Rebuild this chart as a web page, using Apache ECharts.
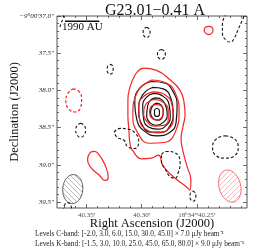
<!DOCTYPE html>
<html><head><meta charset="utf-8">
<script src="https://cdn.jsdelivr.net/npm/echarts@6/dist/echarts.min.js"></script>
<style>html,body{margin:0;padding:0;background:#fff}#c{width:264px;height:252px}</style>
</head><body><div id="c"></div>
<script>
// Axis ranges (RA seconds of 18h34m, Dec arcsec of -9°00')
const raRange = [40.2045, 40.3768];
const decRange = [37.0, 39.58];
const xTicks = [40.35, 40.30, 40.25];
const xMinorTicks = [40.21,40.22,40.23,40.24,40.26,40.27,40.28,40.29,40.31,40.32,40.33,40.34,40.36,40.37];
const yTicks = [37.0, 37.5, 38.0, 38.5, 39.0, 39.5];
const yMinorTicks = [37.1,37.2,37.3,37.4,37.6,37.7,37.8,37.9,38.1,38.2,38.3,38.4,38.6,38.7,38.8,38.9,39.1,39.2,39.3,39.4];

// K-band (black) positive contours
const kPos1 = [[40.2911,37.88],[40.2795,37.90],[40.2714,38.02],[40.2679,38.21],[40.2688,38.43],[40.2750,38.57],[40.2857,38.61],[40.2973,38.55],[40.3045,38.39],[40.3063,38.16],[40.3018,37.97]];
const kPos2 = [[40.2902,37.96],[40.2804,37.98],[40.2732,38.12],[40.2714,38.29],[40.2741,38.47],[40.2821,38.56],[40.2920,38.56],[40.3000,38.45],[40.3027,38.27],[40.2991,38.06]];
const kPos3 = [[40.2893,38.04],[40.2804,38.08],[40.2750,38.20],[40.2741,38.35],[40.2777,38.47],[40.2857,38.52],[40.2938,38.49],[40.2982,38.39],[40.2991,38.21],[40.2955,38.09]];
const kPos4 = [[40.2875,38.10],[40.2813,38.13],[40.2777,38.23],[40.2768,38.33],[40.2804,38.43],[40.2866,38.47],[40.2920,38.44],[40.2955,38.35],[40.2946,38.21],[40.2920,38.13]];
const kPos5 = [[40.2866,38.17],[40.2821,38.20],[40.2804,38.28],[40.2813,38.36],[40.2857,38.40],[40.2902,38.37],[40.2920,38.29],[40.2902,38.21]];
const kPos6 = [[40.2862,38.24],[40.2839,38.27],[40.2839,38.32],[40.2862,38.35],[40.2884,38.32],[40.2884,38.27]];
// K-band negative (black dashed)
const kNegClosed = [
  [[40.2955,37.15],[40.2929,37.18],[40.2924,37.22],[40.2929,37.26],[40.2955,37.29],[40.2982,37.26],[40.2987,37.22],[40.2982,37.18]],
  [[40.2821,37.45],[40.2795,37.47],[40.2786,37.51],[40.2795,37.56],[40.2821,37.58],[40.2848,37.56],[40.2857,37.51],[40.2848,37.47]],
  [[40.3286,37.65],[40.3263,37.67],[40.3259,37.72],[40.3263,37.76],[40.3286,37.78],[40.3308,37.76],[40.3313,37.72],[40.3308,37.67]],
  [[40.3554,38.44],[40.3522,38.47],[40.3509,38.53],[40.3522,38.60],[40.3554,38.63],[40.3585,38.60],[40.3598,38.53],[40.3585,38.47]],
  [[40.3250,38.56],[40.3196,38.51],[40.3125,38.52],[40.3063,38.57],[40.3027,38.68],[40.3063,38.78],[40.3125,38.76],[40.3161,38.67],[40.3223,38.63]],
  [[40.2821,38.86],[40.2777,38.82],[40.2696,38.84],[40.2652,38.98],[40.2670,39.11],[40.2696,39.18],[40.2741,39.16],[40.2786,39.06],[40.2821,38.95]],
  [[40.2241,38.61],[40.2161,38.65],[40.2125,38.76],[40.2152,38.87],[40.2241,38.91],[40.2330,38.87],[40.2357,38.76],[40.2321,38.65]],
  [[40.2536,39.35],[40.2513,39.38],[40.2509,39.42],[40.2513,39.46],[40.2536,39.49],[40.2558,39.46],[40.2563,39.42],[40.2558,39.38]]
];
const kNegOpen = [
  [[40.2232,36.97],[40.2268,37.11],[40.2268,37.23],[40.2232,37.33],[40.2196,37.35],[40.2161,37.30],[40.2125,37.18],[40.2089,37.06],[40.2063,36.97]],
  [[40.3714,39.62],[40.3696,39.53],[40.3670,39.51],[40.3643,39.54],[40.3634,39.62]],
  [[40.3741,37.15],[40.3732,37.10],[40.3714,37.04],[40.3705,36.97]]
];
// C-band (red) positive contours
const cPos1 = [
  [[40.3063,37.80],[40.2982,37.70],[40.2866,37.73],[40.2741,37.86],[40.2652,38.00],[40.2616,38.16],[40.2607,38.33],[40.2625,38.48],[40.2643,38.65],[40.2625,38.82],[40.2589,39.02],[40.2554,39.21],[40.2563,39.34],[40.2598,39.29],[40.2688,39.19],[40.2804,39.02],[40.2848,38.87],[40.2911,38.91],[40.3000,38.92],[40.3071,38.83],[40.3107,38.71],[40.3116,38.53],[40.3125,38.33],[40.3125,38.13],[40.3107,37.96]],
  [[40.2393,37.14],[40.2364,37.15],[40.2353,37.19],[40.2364,37.23],[40.2393,37.25],[40.2421,37.23],[40.2433,37.19],[40.2421,37.15]],
  [[40.3464,38.83],[40.3491,38.93],[40.3464,39.03],[40.3384,39.14],[40.3330,39.21],[40.3304,39.17],[40.3330,39.01],[40.3384,38.87],[40.3429,38.82]]
];
const cPos2 = [[40.2911,37.86],[40.2777,37.90],[40.2688,38.06],[40.2661,38.29],[40.2688,38.53],[40.2795,38.70],[40.2929,38.71],[40.3036,38.57],[40.3080,38.33],[40.3045,38.04]];
const cPos3 = [[40.2893,38.02],[40.2786,38.06],[40.2723,38.21],[40.2714,38.37],[40.2750,38.51],[40.2848,38.57],[40.2955,38.53],[40.3018,38.40],[40.3027,38.21],[40.2982,38.08]];
const cPos4 = [[40.2884,38.12],[40.2804,38.16],[40.2759,38.27],[40.2759,38.39],[40.2804,38.47],[40.2884,38.48],[40.2946,38.43],[40.2982,38.31],[40.2964,38.19]];
const cPos5 = [[40.2866,38.19],[40.2821,38.21],[40.2804,38.29],[40.2821,38.37],[40.2866,38.40],[40.2911,38.37],[40.2929,38.29],[40.2911,38.21]];
// C-band negative (red dashed)
const cNeg = [[40.3625,37.98],[40.3571,38.01],[40.3545,38.12],[40.3554,38.23],[40.3607,38.29],[40.3661,38.25],[40.3688,38.14],[40.3670,38.04]];

// Beams: [RA, Dec, major axis ("), minor axis ("), PA (deg)]
const beamK = [[40.3625, 39.326, 0.39, 0.27, -4]];
const beamC = [[40.2201, 39.286, 0.44, 0.29, 15]];
// Scale bar (1990 AU)
const scaleBar = [[40.3696, 37.071], [40.3384, 37.071]];

const RED = '#f42424', BLACK = '#151515';
function close(p){ return p.concat([p[0]]); }
function lineS(data, color, dashed, w){
  return {type:'line', data:data, xAxisIndex:0, yAxisIndex:0, smooth:0.5, symbol:'none', silent:true,
    lineStyle:{color:color, width:w||1.2, type: dashed ? [3,2] : 'solid'}, z:3};
}
function hatch(color, dir){
  const c = document.createElement('canvas'); c.width = 5; c.height = 5;
  const g = c.getContext('2d'); g.strokeStyle = color; g.lineWidth = 0.7; g.beginPath();
  if (dir > 0){ g.moveTo(-1,1);g.lineTo(1,-1);g.moveTo(0,5);g.lineTo(5,0);g.moveTo(4,6);g.lineTo(6,4); }
  else { g.moveTo(-1,4);g.lineTo(1,6);g.moveTo(0,0);g.lineTo(5,5);g.moveTo(4,-1);g.lineTo(6,1); }
  g.stroke(); return {image:c, repeat:'repeat'};
}
function beamSeries(data, stroke, fill){
  return {type:'custom', coordinateSystem:'cartesian2d', xAxisIndex:0, yAxisIndex:0, data:data, silent:true, z:2,
    renderItem:function(params, api){
      const ra=api.value(0), dec=api.value(1), a=api.value(2)/2, b=api.value(3)/2, pa=api.value(4)*Math.PI/180;
      const pts=[];
      for(let i=0;i<72;i++){
        const t=i/72*2*Math.PI;
        const e=a*Math.cos(t)*Math.sin(pa)+b*Math.sin(t)*Math.cos(pa);
        const n=a*Math.cos(t)*Math.cos(pa)-b*Math.sin(t)*Math.sin(pa);
        pts.push(api.coord([ra+e/14.815, dec-n]));
      }
      return {type:'polygon', shape:{points:pts}, style:{fill:fill, stroke:stroke, lineWidth:1}};
    }};
}

const FONT = 'Liberation Serif';
const series = [];
[kPos1,kPos2,kPos3,kPos4,kPos5,kPos6].forEach(p=>series.push(lineS(close(p), BLACK, false, 1.2)));
[cPos2,cPos3,cPos4,cPos5].forEach(p=>series.push(lineS(close(p), RED, false, 1.2)));
cPos1.forEach(p=>series.push(lineS(close(p), RED, false, 1.2)));
kNegClosed.forEach(p=>series.push(lineS(close(p), BLACK, true, 1.1)));
kNegOpen.forEach(p=>series.push(lineS(p, BLACK, true, 1.1)));
series.push(lineS(close(cNeg), RED, true, 1.2));
series.push(beamSeries(beamK, '#555', hatch('#9a9a9a', -1)));
series.push(beamSeries(beamC, '#f46a6a', hatch('#f6a0a0', 1)));
series.push({type:'line', data:scaleBar, symbol:'none', silent:true, smooth:false, lineStyle:{color:'#111', width:1.5}, z:4});
// RA tick labels placed through the axis scale
series.push({type:'scatter', data:xTicks.map(v=>[v, decRange[1]]), symbolSize:0, silent:true, clip:false, z:5,
  label:{show:true, position:'bottom', distance:4, fontFamily:FONT, fontSize:7, color:'#222',
    formatter:function(p){ const v=p.value[0]; return Math.abs(v-40.25)<1e-6 ? '18ʰ34ᵐ40.25ˢ' : v.toFixed(2)+'ˢ'; }}});

const tickCol = '#444';
function xAx(pos, minor, labels){
  return {type:'value', position:pos, min:raRange[0], max:raRange[1], inverse:true,
    axisLine:{show:false}, splitLine:{show:false},
    axisTick:{show:true, inside:true, length: minor?2:4, customValues: minor?xMinorTicks:xTicks, lineStyle:{color:tickCol, width:0.8}},
    axisLabel:{show:false},
    name: labels ? 'Right Ascension (J2000)' : '', nameLocation:'middle', nameGap:9, nameMoveOverlap:false,
    nameTextStyle:{fontFamily:FONT, fontSize:12.5, color:'#111', verticalAlign:'top'}};
}
function yAx(pos, minor, labels){
  return {type:'value', position:pos, min:decRange[0], max:decRange[1], inverse:true,
    axisLine:{show:false}, splitLine:{show:false},
    axisTick:{show:true, inside:true, length: minor?2:4, customValues: minor?yMinorTicks:yTicks, lineStyle:{color:tickCol, width:0.8}},
    axisLabel:{show:labels, customValues:yTicks, margin:3, fontFamily:FONT, fontSize:7, fontStyle:'italic', color:'#222',
      formatter:function(v){ return Math.abs(v-37)<1e-6 ? '−9°00′37.0″' : v.toFixed(1)+'″'; }},
    name: labels ? 'Declination (J2000)' : '', nameLocation:'middle', nameGap:36, nameRotate:90, nameMoveOverlap:false,
    nameTextStyle:{fontFamily:FONT, fontSize:12.5, color:'#111'}};
}

const chart = echarts.init(document.getElementById('c'), null, {renderer:'canvas'});
chart.setOption({
  animation:false,
  backgroundColor:'#fff',
  title:{text:'G23.01−0.41 A', left:150, top:-2, textAlign:'center',
    textStyle:{fontFamily:FONT, fontSize:16, fontWeight:'normal', color:'#111'}},
  grid:{left:54, top:16, width:193, height:192, show:true, borderColor:'#555', borderWidth:1, backgroundColor:'transparent'},
  xAxis:[xAx('bottom',false,true), xAx('bottom',true,false), xAx('top',false,false), xAx('top',true,false)],
  yAxis:[yAx('left',false,true), yAx('left',true,false), yAx('right',false,false), yAx('right',true,false)],
  graphic:[
    {type:'text', left:62, top:22, style:{text:'1990 AU', font:'11px "Liberation Serif"', fill:'#111'}},
    {type:'text', left:35, top:231, style:{text:'Levels C-band: [-2.0, 3.0, 6.0, 15.0, 30.0, 45.0] × 7.0 μJy beam⁻¹', font:'7.3px "Liberation Serif"', fill:'#222'}},
    {type:'text', left:35, top:240.5, style:{text:'Levels K-band: [-1.5, 3.0, 10.0, 25.0, 45.0, 65.0, 80.0] × 9.0 μJy beam⁻¹', font:'7.3px "Liberation Serif"', fill:'#222'}}
  ],
  series:series
});
</script></body></html>
